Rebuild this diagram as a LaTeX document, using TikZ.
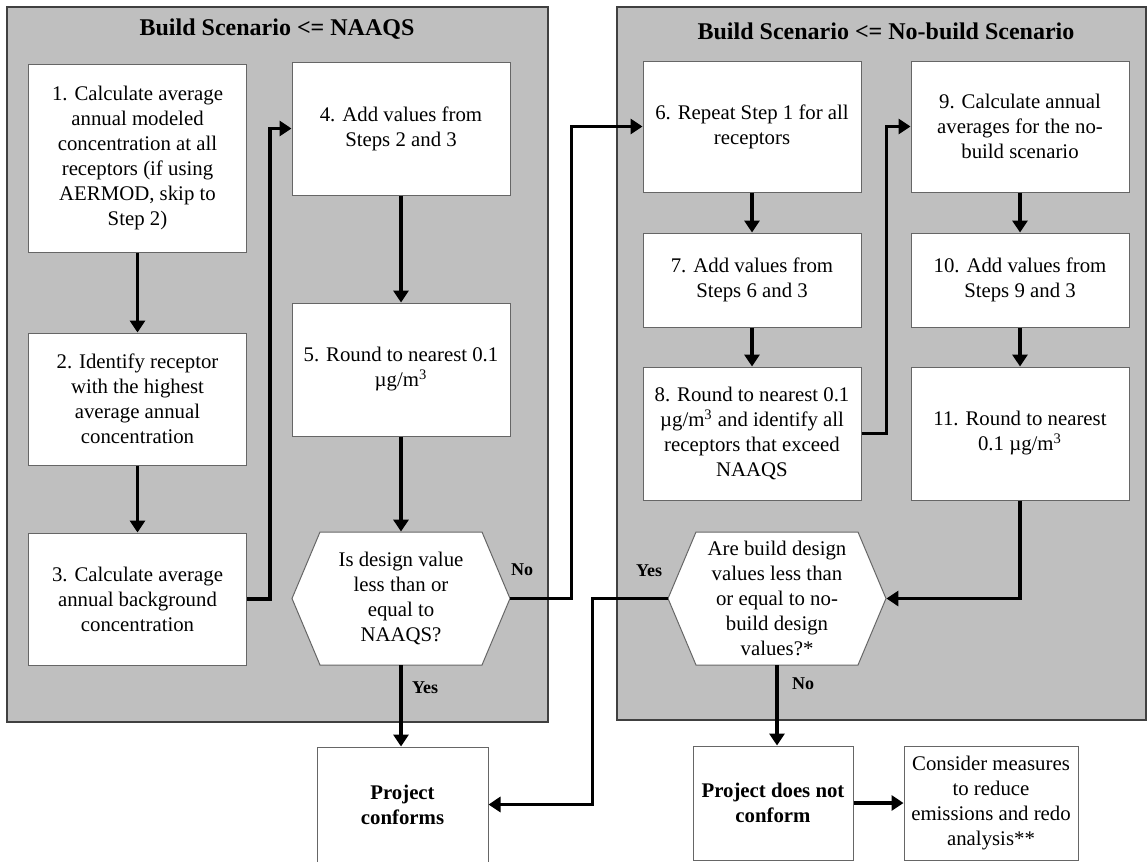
\documentclass[tikz,border=0pt]{standalone}
\usepackage{fontspec}
\setmainfont{Liberation Serif}
\usetikzlibrary{arrows.meta}
\definecolor{panelgray}{RGB}{191,191,191}

\begin{document}
\begin{tikzpicture}[x=0.5pt,y=-0.5pt,
  panel/.style={fill=panelgray,draw=black!75,line width=0.75pt},
  stepbox/.style={rectangle,draw=black!60,fill=white,line width=0.5pt,align=center,
    minimum width=109pt,inner sep=2pt,font=\fontsize{10.4}{12.5}\selectfont},
  hexline/.style={draw=black!60,fill=white,line width=0.5pt},
  hexnode/.style={rectangle,align=center,minimum width=109pt,minimum height=66.5pt,
    font=\fontsize{10.4}{12.5}\selectfont},
  endbox/.style={stepbox,font=\fontsize{10.4}{12.5}\selectfont\bfseries},
  title/.style={font=\fontsize{12}{14}\selectfont\bfseries},
  answer/.style={font=\fontsize{9}{11}\selectfont\bfseries},
  link/.style={line width=1.75pt,-{Triangle[length=6pt,width=7.5pt]}}]
  \useasboundingbox (0,0) rectangle (1147,862);

  % the two scenario panels
  \draw[panel] (7,7) rectangle (548,722);
  \draw[panel] (617,7) rectangle (1146,720);
  \node[title] (t1) at (277,29) {Build Scenario <= NAAQS};
  \node[title] (t2) at (886,31) {Build Scenario <= No-build Scenario};

  % build scenario steps
  \node[stepbox,minimum height=94pt] (s1) at (137.5,158) {1. Calculate average\\ annual modeled\\ concentration at all\\ receptors (if using\\ AERMOD, skip to\\ Step 2)};
  \node[stepbox,minimum height=66pt] (s2) at (137.5,399) {2. Identify receptor\\ with the highest\\ average annual\\ concentration};
  \node[stepbox,minimum height=66pt] (s3) at (137.5,599) {3. Calculate average\\ annual background\\ concentration};
  \node[stepbox,minimum height=66.5pt] (s4) at (401,128.5) {4. Add values from\\ Steps 2 and 3};
  \node[stepbox,minimum height=66.5pt] (s5) at (401,369.5) {5. Round to nearest 0.1\\ µg/m\textsuperscript{3}};

  % no-build scenario steps
  \node[stepbox,minimum height=65.5pt] (s6) at (752,126.5) {6. Repeat Step 1 for all\\ receptors};
  \node[stepbox,minimum height=47pt] (s7) at (752,280) {7. Add values from\\ Steps 6 and 3};
  \node[stepbox,minimum height=66.5pt] (s8) at (752,433.5) {8. Round to nearest 0.1\\ µg/m\textsuperscript{3} and identify all\\ receptors that exceed\\ NAAQS};
  \node[stepbox,minimum height=65.5pt] (s9) at (1020,126.5) {9. Calculate annual\\ averages for the no-\\ build scenario};
  \node[stepbox,minimum height=47pt] (s10) at (1020,280) {10. Add values from\\ Steps 9 and 3};
  \node[stepbox,minimum height=66.5pt] (s11) at (1020,433.5) {11. Round to nearest\\ 0.1 µg/m\textsuperscript{3}};

  % decisions
  \foreach \cx in {401,777}
    \path[hexline] (\cx-109,598.5) -- (\cx-81,532) -- (\cx+81,532) -- (\cx+109,598.5)
      -- (\cx+81,665) -- (\cx-81,665) -- cycle;
  \node[hexnode] (q1) at (401,598.5) {Is design value\\ less than or\\ equal to\\ NAAQS?};
  \node[hexnode] (q2) at (777,598.5) {Are build design\\ values less than\\ or equal to no-\\ build design\\ values?*};

  % outcomes
  \node[endbox,minimum width=85.5pt,minimum height=57.5pt] (pc) at (402.5,804.5) {Project\\ conforms};
  \node[endbox,minimum width=80pt,minimum height=57pt] (pn) at (773,803) {Project does not\\ conform};
  \node[stepbox,minimum width=87pt,minimum height=57pt] (cm) at (991,803) {Consider measures\\ to reduce\\ emissions and redo\\ analysis**};

  % connectors
  \draw[link] (s1) -- (s2);
  \draw[link] (s2) -- (s3);
  \draw[link] (s3.east) -- ++(23,0) |- (s4.west);
  \draw[link] (s4) -- (s5);
  \draw[link] (s5) -- (q1);
  \draw[link] (q1.east) -- ++(61,0) |- (s6.west);
  \draw[link] (q1.south) -- (q1.south |- pc.north);
  \draw[link] (s6) -- (s7);
  \draw[link] (s7) -- (s8);
  \draw[link] (s8.east) -- ++(25,0) |- (s9.west);
  \draw[link] (s9) -- (s10);
  \draw[link] (s10) -- (s11);
  \draw[link] (s11.south) |- (q2.east);
  \draw[link] (q2.west) -- ++(-75,0) |- (pc.east);
  \draw[link] (q2.south) -- (q2.south |- pn.north);
  \draw[link] (pn) -- (cm);

  % answers
  \node[answer] (no1) at (522,570) {No};
  \node[answer] (yes1) at (425,688) {Yes};
  \node[answer] (yes2) at (649,571) {Yes};
  \node[answer] (no2) at (803,684) {No};
\end{tikzpicture}
\end{document}
